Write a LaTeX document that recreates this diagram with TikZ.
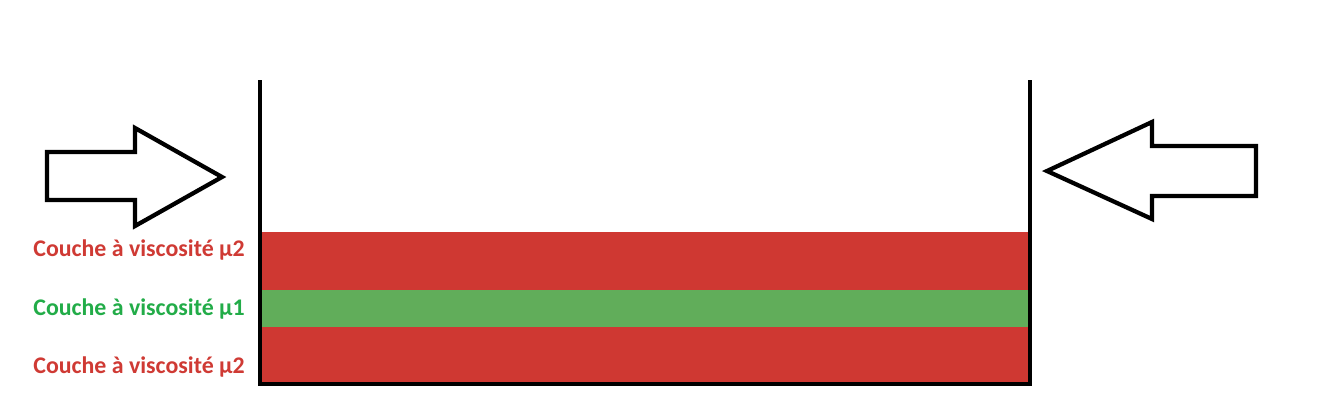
\documentclass[tikz,border=0pt]{standalone}
\usepackage{fontspec}
\setmainfont{Carlito}
\definecolor{layred}{RGB}{207,56,50}
\definecolor{laygreen}{RGB}{97,173,90}
\definecolor{txtred}{RGB}{207,58,52}
\definecolor{txtgreen}{RGB}{34,172,72}
\tikzset{
  wall/.style={line width=2.6pt, line cap=rect},
  arrowshape/.style={draw=black, fill=white, line width=3.2pt, line join=miter},
  lbl/.style={font=\bfseries\fontsize{17.9}{20}\selectfont, anchor=east, inner sep=0pt}
}
\begin{document}
\begin{tikzpicture}[x=0.75pt,y=-0.75pt]
\useasboundingbox (0,0) rectangle (1317,408);
% layers
\fill[layred] (261,232) rectangle (1029,290);
\fill[laygreen] (261,290) rectangle (1029,328);
\fill[layred] (261,328) rectangle (1029,383);
\draw[layred, line width=1.2pt] (261,328) -- (1029,328);
% container
\draw[wall] (260,82) -- (260,384) -- (1030,384) -- (1030,82);
% arrows
\draw[arrowshape] (47,152) -- (135,152) -- (135,128) -- (222,177) -- (135,226) -- (135,200) -- (47,200) -- cycle;
\draw[arrowshape] (1256,146) -- (1152,146) -- (1152,122) -- (1047,171) -- (1152,219) -- (1152,196) -- (1256,196) -- cycle;
% labels
\node[lbl, text=txtred] (l1) at (245,250) {Couche à viscosité µ2};
\node[lbl, text=txtgreen] (l2) at (245,309) {Couche à viscosité µ1};
\node[lbl, text=txtred] (l3) at (245,367) {Couche à viscosité µ2};
\end{tikzpicture}
\end{document}
